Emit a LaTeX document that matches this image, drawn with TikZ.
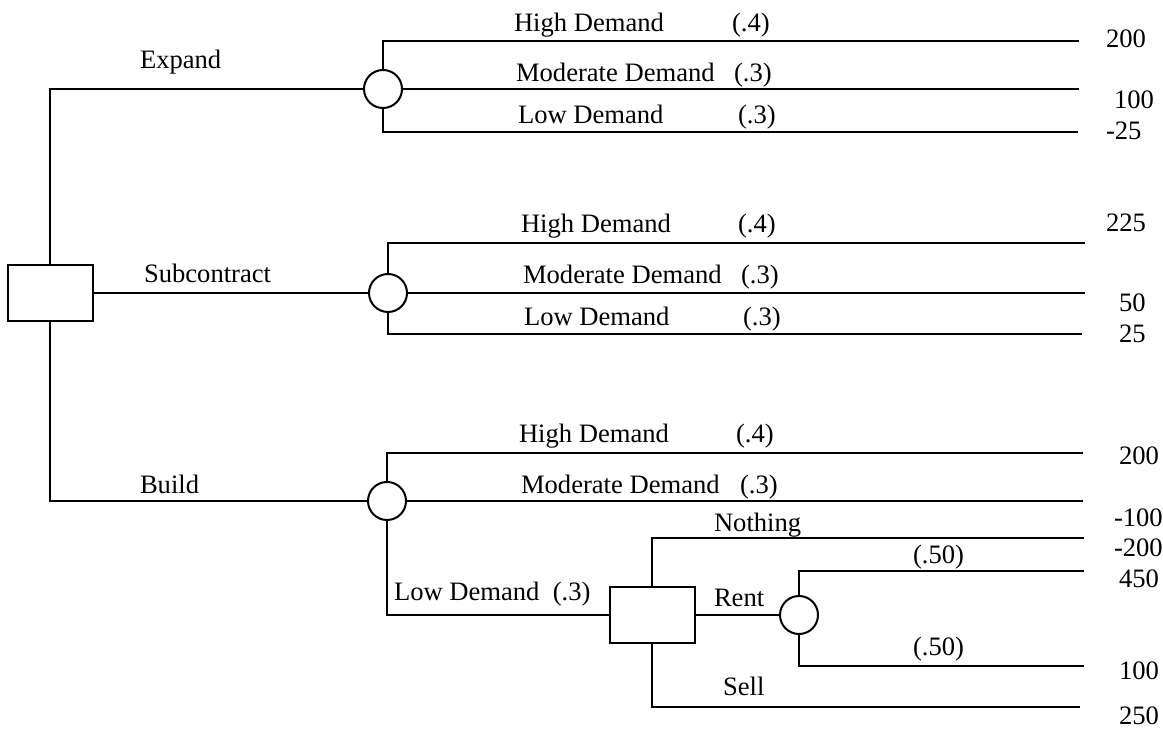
\documentclass[tikz,border=0pt]{standalone}
\usepackage{fontspec}
\setmainfont{Liberation Serif}
\usetikzlibrary{positioning,shapes.geometric}
\tikzset{%
	chance/.style = {draw, circle, minimum size=19pt, inner sep=0pt},
	choice/.style = {draw, rectangle, minimum width=42.5pt, minimum height=28pt, inner sep=0pt},
	lbl/.style    = {anchor=base west, inner sep=0pt, font=\fontsize{13.3}{16}\selectfont},
}

\begin{document}
\begin{tikzpicture}[x=0.5pt,y=-0.5pt,line width=1pt]
	\useasboundingbox (0,0) rectangle (1163,731);
	% decision and chance nodes
	\node[choice] (root) at (50,293) {};
	\node[chance] (ce) at (383,89) {};
	\node[chance] (cs) at (388,293) {};
	\node[chance] (cb) at (387,501) {};
	\node[choice] (low) at (652,615) {};
	\node[chance] (cr) at (799,615) {};
	% ends of the branches
	\coordinate (eH) at (1079,41);
	\coordinate (eM) at (1079,89);
	\coordinate (eL) at (1078,132);
	\coordinate (sH) at (1085,243);
	\coordinate (sM) at (1085,293);
	\coordinate (sL) at (1082,334);
	\coordinate (bH) at (1083,453);
	\coordinate (bM) at (1083,501);
	\coordinate (nN) at (1084,538);
	\coordinate (rH) at (1084,571);
	\coordinate (rL) at (1084,666);
	\coordinate (nS) at (1080,707);
	% first decision
	\draw (root.north) |- (ce.west);
	\draw (root.east) -- (cs.west);
	\draw (root.south) |- (cb.west);
	\node[lbl] (tE) at (139,69) {Expand};
	\node[lbl] (tS) at (143,283) {Subcontract};
	\node[lbl] (tB) at (139,494) {Build};
	% expand
	\draw (ce.north) |- (eH);
	\draw (ce.east) -- (eM);
	\draw (ce.south) |- (eL);
	\node[lbl] (eH1) at (513,32) {High Demand};
	\node[lbl] (eH2) at (731,32) {(.4)};
	\node[lbl] (eM1) at (515,82) {Moderate Demand};
	\node[lbl] (eM2) at (733,82) {(.3)};
	\node[lbl] (eL1) at (517,124) {Low Demand};
	\node[lbl] (eL2) at (737,124) {(.3)};
	\node[lbl] (pE1) at (1105,48) {200};
	\node[lbl] (pE2) at (1113,109) {100};
	\node[lbl] (pE3) at (1105,140) {-25};
	% subcontract
	\draw (cs.north) |- (sH);
	\draw (cs.east) -- (sM);
	\draw (cs.south) |- (sL);
	\node[lbl] (sH1) at (520,233) {High Demand};
	\node[lbl] (sH2) at (737,233) {(.4)};
	\node[lbl] (sM1) at (522,284) {Moderate Demand};
	\node[lbl] (sM2) at (740,284) {(.3)};
	\node[lbl] (sL1) at (523,326) {Low Demand};
	\node[lbl] (sL2) at (742,326) {(.3)};
	\node[lbl] (pS1) at (1105,232) {225};
	\node[lbl] (pS2) at (1118,312) {50};
	\node[lbl] (pS3) at (1118,343) {25};
	% build
	\draw (cb.north) |- (bH);
	\draw (cb.east) -- (bM);
	\draw (cb.south) |- (low.west);
	\node[lbl] (bH1) at (518,443) {High Demand};
	\node[lbl] (bH2) at (735,443) {(.4)};
	\node[lbl] (bM1) at (520,494) {Moderate Demand};
	\node[lbl] (bM2) at (739,494) {(.3)};
	\node[lbl] (bL1) at (393,601) {Low Demand~ (.3)};
	% what to do after low demand
	\draw (low.north) |- (nN);
	\draw (low.east) -- (cr.west);
	\draw (low.south) |- (nS);
	\draw (cr.north) |- (rH);
	\draw (cr.south) |- (rL);
	\node[lbl] (tN) at (713,532) {Nothing};
	\node[lbl] (tR) at (713,607) {Rent};
	\node[lbl] (tL) at (722,696) {Sell};
	\node[lbl] (rH1) at (912,564) {(.50)};
	\node[lbl] (rL1) at (912,656) {(.50)};
	\node[lbl] (pB1) at (1118,465) {200};
	\node[lbl] (pB2) at (1113,527) {-100};
	\node[lbl] (pB3) at (1113,557) {-200};
	\node[lbl] (pB4) at (1118,588) {450};
	\node[lbl] (pB5) at (1118,680) {100};
	\node[lbl] (pB6) at (1118,725) {250};
\end{tikzpicture}
\end{document}
